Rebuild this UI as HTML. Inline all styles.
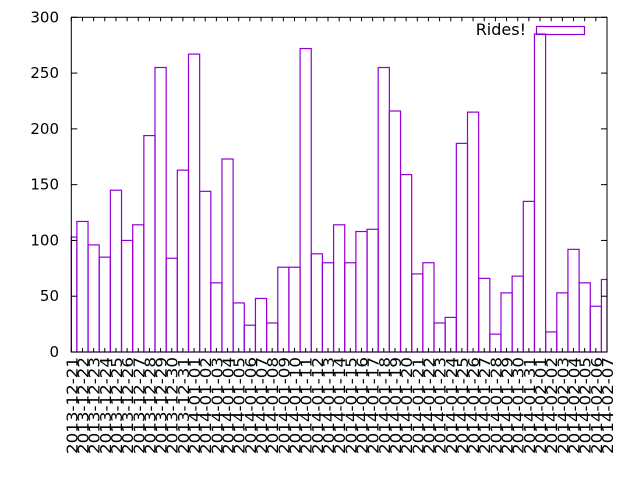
<!DOCTYPE html>
<html><head><meta charset="utf-8"><style>
html,body{margin:0;padding:0;background:#fff;}
svg{display:block;font-family:"DejaVu Sans","Liberation Sans",sans-serif;}
</style></head><body>
<svg id="chart" width="640" height="480" viewBox="0 0 640 480" xmlns="http://www.w3.org/2000/svg">
<rect x="0" y="0" width="640" height="480" fill="#fff"/>
<g id="bars"></g>
<g id="axes"></g>
<g id="legend">
<text x="526" y="35" text-anchor="end" font-size="16" fill="#000">Rides!</text>
<rect x="536.5" y="26.5" width="48" height="8" fill="none" stroke="#9400d3" stroke-width="1.2"/>
</g>
</svg>
<script>
const startDate = "2013-12-21";
const categories = ["2013-12-21","2013-12-22","2013-12-23","2013-12-24","2013-12-25","2013-12-26","2013-12-27","2013-12-28","2013-12-29","2013-12-30","2013-12-31","2014-01-01","2014-01-02","2014-01-03","2014-01-04","2014-01-05","2014-01-06","2014-01-07","2014-01-08","2014-01-09","2014-01-10","2014-01-11","2014-01-12","2014-01-13","2014-01-14","2014-01-15","2014-01-16","2014-01-17","2014-01-18","2014-01-19","2014-01-20","2014-01-21","2014-01-22","2014-01-23","2014-01-24","2014-01-25","2014-01-26","2014-01-27","2014-01-28","2014-01-29","2014-01-30","2014-01-31","2014-02-01","2014-02-02","2014-02-03","2014-02-04","2014-02-05","2014-02-06","2014-02-07"];
const rides = [103,117,96,85,145,100,114,194,255,84,163,267,144,62,173,44,24,48,26,76,76,272,88,80,114,80,108,110,255,216,159,70,80,26,31,187,215,66,16,53,68,135,285,18,53,92,62,41,65];
const yTicks = [0,50,100,150,200,250,300];

const NS = "http://www.w3.org/2000/svg";
const L = 71.3, R = 607, T = 17.3, B = 352;
const yMax = 300;
const step = (R - L) / (categories.length - 1);
function xPos(i){ return L + i * step; }
function yPos(v){ return B - (v / yMax) * (B - T); }
function mk(tag, attrs, parent){
  const e = document.createElementNS(NS, tag);
  for (const k in attrs) e.setAttribute(k, attrs[k]);
  parent.appendChild(e); return e;
}
const bars = document.getElementById('bars');
const axes = document.getElementById('axes');
rides.forEach((v, i) => {
  let x0 = Math.max(L, xPos(i) - step/2), x1 = Math.min(R, xPos(i) + step/2);
  const y = yPos(v);
  const r = mk('rect', {x: x0, y: y, width: x1 - x0, height: B - y, fill: 'none', stroke: '#9400d3', 'stroke-width': 1.2}, bars);
  
  
});
const fr = mk('rect', {x: L, y: T, width: R - L, height: B - T, fill: 'none', stroke: '#000', 'stroke-width': 1}, axes);


yTicks.forEach(t => {
  const y = yPos(t);
  mk('line', {x1: L, x2: L + 6, y1: y, y2: y, stroke: '#000'}, axes);
  mk('line', {x1: R, x2: R - 6, y1: y, y2: y, stroke: '#000'}, axes);
  const tx = mk('text', {x: 59, y: y + 5, 'text-anchor': 'end', 'font-size': 15, fill: '#000'}, axes);
  tx.textContent = t;
  
  
});
categories.forEach((c, i) => {
  const x = xPos(i);
  mk('line', {x1: x, x2: x, y1: B, y2: B - 4, stroke: '#000'}, axes);
  mk('line', {x1: x, x2: x, y1: T, y2: T + 4, stroke: '#000'}, axes);
  const tx = mk('text', {x: 0, y: 0, 'text-anchor': 'end', 'font-size': 15, fill: '#000',
    textLength: 97, lengthAdjust: 'spacingAndGlyphs',
    transform: 'translate(' + (x + 6) + ',357) rotate(-90)'}, axes);
  tx.textContent = c;
  
  
});
</script>
</body></html>
